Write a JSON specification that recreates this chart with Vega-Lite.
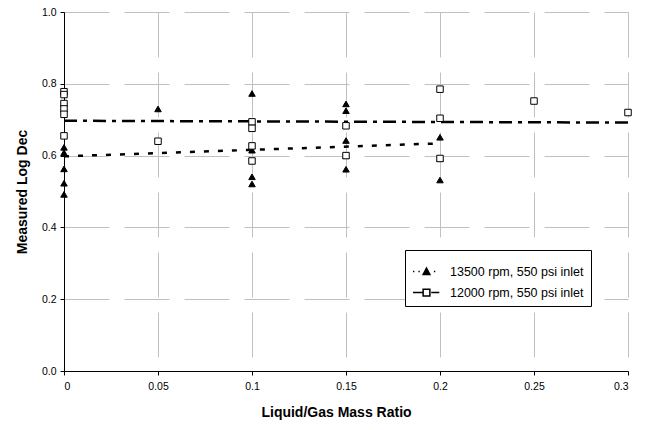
{
  "$schema": "https://vega.github.io/schema/vega-lite/v6.json",
  "width": 564,
  "height": 359,
  "autosize": "none",
  "padding": {"left": 64, "top": 12, "right": 23, "bottom": 59},
  "background": "white",
  "config": {
    "font": "Liberation Sans",
    "view": {"stroke": null},
    "axis": {
      "grid": true,
      "gridColor": "#c0c0c0",
      "gridDash": [45, 15],
      "gridWidth": 1,
      "domainColor": "black",
      "domainWidth": 1,
      "tickColor": "black",
      "tickSize": 4,
      "labelFont": "Liberation Sans",
      "labelFontSize": 10.5,
      "labelColor": "black",
      "titleFont": "Liberation Sans",
      "titleFontSize": 14,
      "titleFontWeight": "bold",
      "titleColor": "black"
    }
  },
  "datasets": {
    "pts": [
      {"series": "13500 rpm, 550 psi inlet", "ratio": 0, "logdec": 0.623},
      {"series": "13500 rpm, 550 psi inlet", "ratio": 0, "logdec": 0.608},
      {"series": "13500 rpm, 550 psi inlet", "ratio": 0, "logdec": 0.563},
      {"series": "13500 rpm, 550 psi inlet", "ratio": 0, "logdec": 0.523},
      {"series": "13500 rpm, 550 psi inlet", "ratio": 0, "logdec": 0.492},
      {"series": "13500 rpm, 550 psi inlet", "ratio": 0.05, "logdec": 0.73},
      {"series": "13500 rpm, 550 psi inlet", "ratio": 0.1, "logdec": 0.773},
      {"series": "13500 rpm, 550 psi inlet", "ratio": 0.1, "logdec": 0.615},
      {"series": "13500 rpm, 550 psi inlet", "ratio": 0.1, "logdec": 0.541},
      {"series": "13500 rpm, 550 psi inlet", "ratio": 0.1, "logdec": 0.521},
      {"series": "13500 rpm, 550 psi inlet", "ratio": 0.15, "logdec": 0.744},
      {"series": "13500 rpm, 550 psi inlet", "ratio": 0.15, "logdec": 0.725},
      {"series": "13500 rpm, 550 psi inlet", "ratio": 0.15, "logdec": 0.642},
      {"series": "13500 rpm, 550 psi inlet", "ratio": 0.15, "logdec": 0.6},
      {"series": "13500 rpm, 550 psi inlet", "ratio": 0.15, "logdec": 0.562},
      {"series": "13500 rpm, 550 psi inlet", "ratio": 0.2, "logdec": 0.651},
      {"series": "13500 rpm, 550 psi inlet", "ratio": 0.2, "logdec": 0.592},
      {"series": "13500 rpm, 550 psi inlet", "ratio": 0.2, "logdec": 0.532},
      {"series": "12000 rpm, 550 psi inlet", "ratio": 0, "logdec": 0.778},
      {"series": "12000 rpm, 550 psi inlet", "ratio": 0, "logdec": 0.77},
      {"series": "12000 rpm, 550 psi inlet", "ratio": 0, "logdec": 0.745},
      {"series": "12000 rpm, 550 psi inlet", "ratio": 0, "logdec": 0.73},
      {"series": "12000 rpm, 550 psi inlet", "ratio": 0, "logdec": 0.715},
      {"series": "12000 rpm, 550 psi inlet", "ratio": 0, "logdec": 0.655},
      {"series": "12000 rpm, 550 psi inlet", "ratio": 0.05, "logdec": 0.64},
      {"series": "12000 rpm, 550 psi inlet", "ratio": 0.1, "logdec": 0.694},
      {"series": "12000 rpm, 550 psi inlet", "ratio": 0.1, "logdec": 0.676},
      {"series": "12000 rpm, 550 psi inlet", "ratio": 0.1, "logdec": 0.627},
      {"series": "12000 rpm, 550 psi inlet", "ratio": 0.1, "logdec": 0.585},
      {"series": "12000 rpm, 550 psi inlet", "ratio": 0.15, "logdec": 0.683},
      {"series": "12000 rpm, 550 psi inlet", "ratio": 0.15, "logdec": 0.6},
      {"series": "12000 rpm, 550 psi inlet", "ratio": 0.2, "logdec": 0.785},
      {"series": "12000 rpm, 550 psi inlet", "ratio": 0.2, "logdec": 0.704},
      {"series": "12000 rpm, 550 psi inlet", "ratio": 0.2, "logdec": 0.592},
      {"series": "12000 rpm, 550 psi inlet", "ratio": 0.25, "logdec": 0.752},
      {"series": "12000 rpm, 550 psi inlet", "ratio": 0.3, "logdec": 0.72}
    ],
    "trend": [
      {"series": "13500 rpm, 550 psi inlet", "ratio": 0, "logdec": 0.598},
      {"series": "13500 rpm, 550 psi inlet", "ratio": 0.2, "logdec": 0.634},
      {"series": "12000 rpm, 550 psi inlet", "ratio": 0, "logdec": 0.697},
      {"series": "12000 rpm, 550 psi inlet", "ratio": 0.3, "logdec": 0.692}
    ]
  },
  "encoding": {
    "x": {
      "field": "ratio", "type": "quantitative",
      "scale": {"domain": [0, 0.3], "nice": false, "zero": false},
      "axis": {"values": [0, 0.05, 0.1, 0.15, 0.2, 0.25, 0.3], "labelExpr": "datum.value == 0 ? '0' : format(datum.value, '.2~f')", "title": "Liquid/Gas Mass Ratio", "titlePadding": 14, "labelPadding": 6, "titleX": 272}
    },
    "y": {
      "field": "logdec", "type": "quantitative",
      "scale": {"domain": [0, 1], "nice": false},
      "axis": {"values": [0, 0.2, 0.4, 0.6, 0.8, 1.0], "format": ".1f", "title": "Measured Log Dec", "titlePadding": 12, "labelPadding": 4}
    }
  },
  "layer": [
    {
      "data": {"name": "trend"},
      "transform": [{"filter": "datum.series == '13500 rpm, 550 psi inlet'"}],
      "mark": {"type": "line", "color": "black", "strokeWidth": 2.5, "strokeDash": [5, 9]},
      "encoding": {}
    },
    {
      "data": {"name": "trend"},
      "transform": [{"filter": "datum.series == '12000 rpm, 550 psi inlet'"}],
      "mark": {"type": "line", "color": "black", "strokeWidth": 2.5, "strokeDash": [13, 6, 4, 6]},
      "encoding": {}
    },
    {
      "data": {"name": "pts"},
      "transform": [{"filter": "datum.series == '13500 rpm, 550 psi inlet'"}],
      "mark": {"type": "point", "shape": "triangle-up", "filled": true, "fill": "black", "stroke": "black", "strokeWidth": 1, "opacity": 1, "size": 42},
      "encoding": {}
    },
    {
      "data": {"name": "pts"},
      "transform": [{"filter": "datum.series == '12000 rpm, 550 psi inlet'"}],
      "mark": {"type": "point", "shape": "square", "filled": true, "fill": "white", "stroke": "black", "strokeWidth": 1, "opacity": 1, "size": 42},
      "encoding": {}
    },
    {
      "data": {"name": "trend"},
      "mark": {"type": "point", "filled": true, "size": 0, "opacity": 1},
      "encoding": {
        "shape": {
          "field": "series", "type": "nominal",
          "scale": {
            "domain": ["13500 rpm, 550 psi inlet", "12000 rpm, 550 psi inlet"],
            "range": [
              "M-1,0L-0.9,0M-0.6,0L-0.5,0M0.55,0L0.65,0M-0.25,0.22L0.25,0.22L0,-0.25Z",
              "M-1,0L-0.3,0M0.35,0L0.95,0M-0.25,-0.25L0.25,-0.25L0.25,0.25L-0.25,0.25Z"
            ]
          },
          "legend": {
            "title": null,
            "orient": "none",
            "legendX": 341,
            "legendY": 238,
            "strokeColor": "black",
            "fillColor": "white",
            "padding": 7,
            "rowPadding": 0,
            "labelFontSize": 12.5,
            "labelFont": "Liberation Sans",
            "labelColor": "black",
            "labelLimit": 300,
            "labelOffset": 9,
            "symbolSize": 729,
            "symbolStrokeWidth": 1.5
          }
        },
        "fill": {
          "field": "series", "type": "nominal",
          "scale": {"domain": ["13500 rpm, 550 psi inlet", "12000 rpm, 550 psi inlet"], "range": ["black", "white"]}
        },
        "stroke": {
          "field": "series", "type": "nominal",
          "scale": {"domain": ["13500 rpm, 550 psi inlet", "12000 rpm, 550 psi inlet"], "range": ["black", "black"]}
        }
      }
    }
  ]
}
